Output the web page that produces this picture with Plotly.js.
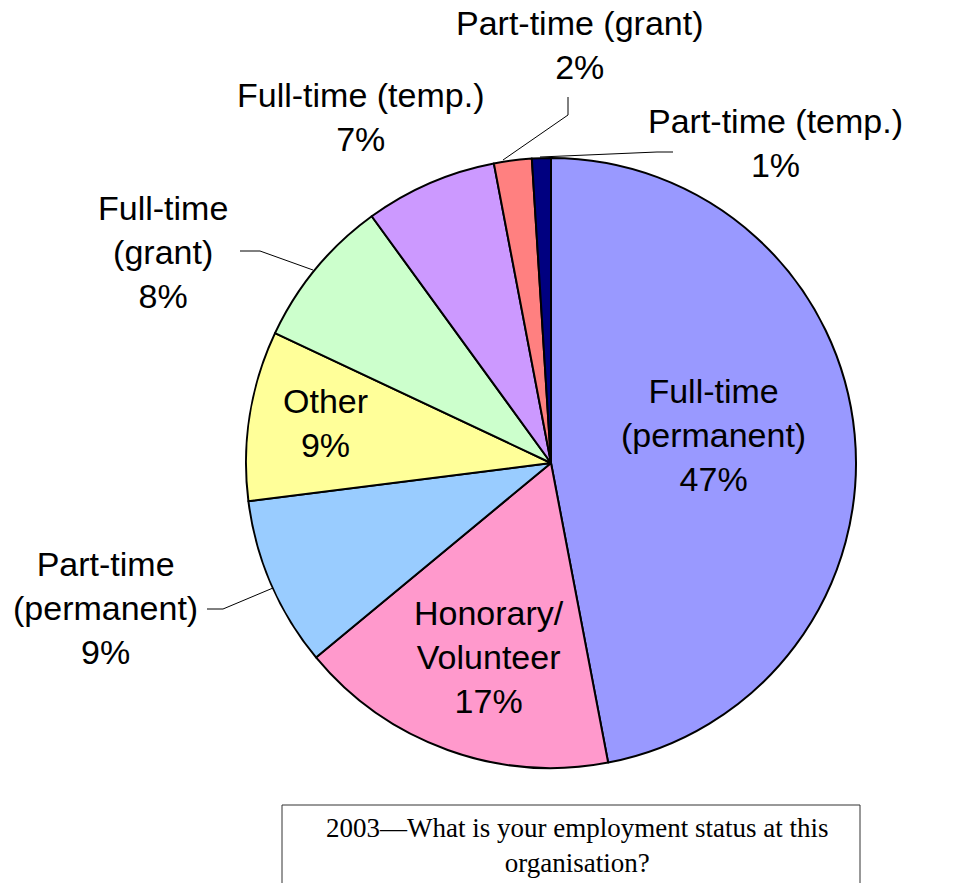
<!DOCTYPE html>
<html>
<head>
<meta charset="utf-8">
<script src="https://cdn.plot.ly/plotly-3.0.1.min.js"></script>
<style>html,body{margin:0;padding:0;background:#fff;}</style>
</head>
<body>
<div id="chart" style="width:965px;height:883px;"></div>
<script>
// Data
const categories = ["Full-time (permanent)", "Honorary/Volunteer", "Part-time (permanent)", "Other",
                    "Full-time (grant)", "Full-time (temp.)", "Part-time (grant)", "Part-time (temp.)"];
const displayLabels = ["Full-time<br>(permanent)", "Honorary/<br>Volunteer", "Part-time<br>(permanent)", "Other",
                       "Full-time<br>(grant)", "Full-time (temp.)", "Part-time (grant)", "Part-time (temp.)"];
const values = [47, 17, 9, 9, 8, 7, 2, 1];
const colors = ["#9999FF", "#FF99CC", "#99CCFF", "#FFFF99", "#CCFFCC", "#CC99FF", "#FF8080", "#000080"];
const titleLines = ["2003\u2014What is your employment status at this", "organisation?"];

const W = 965, H = 883;
const px = x => x / W;
const py = y => 1 - y / H;

// label anchor positions (layout only)
const labelPos = [[713, 435], [489, 657], [105, 608], [325, 423], [163, 252], [360, 117], [580, 45], [775, 143]];

const total = values.reduce((a, b) => a + b, 0);
const annotations = categories.map((c, i) => ({
  x: px(labelPos[i][0]), y: py(labelPos[i][1]), xref: 'paper', yref: 'paper',
  text: displayLabels[i] + '<br>' + Math.round(values[i] / total * 100) + '%',
  showarrow: false, xanchor: 'center', yanchor: 'middle', align: 'center',
  font: {family: 'Liberation Sans, Arial, sans-serif', size: 34, color: '#000'}
}));
annotations.push({
  x: px(577), y: py(845), xref: 'paper', yref: 'paper', text: titleLines.join('<br>'), showarrow: false,
  xanchor: 'center', yanchor: 'middle', align: 'center',
  font: {family: 'Liberation Serif, Times New Roman, serif', size: 27, color: '#000'}
});

const leader = pts => ({
  type: 'path', xref: 'paper', yref: 'paper',
  path: pts.map((p, k) => (k ? 'L' : 'M') + px(p[0]) + ',' + py(p[1])).join(' '),
  line: {color: '#000', width: 1}
});

const shapes = [
  leader([[503, 160], [568, 115], [568, 97]]),
  leader([[540, 157], [657, 152], [673, 152]]),
  leader([[240, 251], [260, 251], [313, 270]]),
  leader([[207, 609], [223, 609], [273, 588]]),
  {type: 'rect', xref: 'paper', yref: 'paper', x0: px(282), x1: px(860), y0: py(805), y1: py(895),
   line: {color: '#333', width: 1}, fillcolor: 'rgba(0,0,0,0)'}
];

const trace = {
  type: 'pie', values: values, labels: categories,
  marker: {colors: colors, line: {color: '#000', width: 2}},
  sort: false, direction: 'clockwise', rotation: 0,
  textinfo: 'none', hoverinfo: 'label+percent',
  domain: {x: [px(551 - 305), px(551 + 305)], y: [py(463 + 305), py(463 - 305)]},
  showlegend: false
};

Plotly.newPlot('chart', [trace], {
  width: W, height: H, margin: {l: 0, r: 0, t: 0, b: 0},
  paper_bgcolor: '#fff', showlegend: false,
  annotations: annotations, shapes: shapes
}, {displayModeBar: false, staticPlot: true});
</script>
</body>
</html>
